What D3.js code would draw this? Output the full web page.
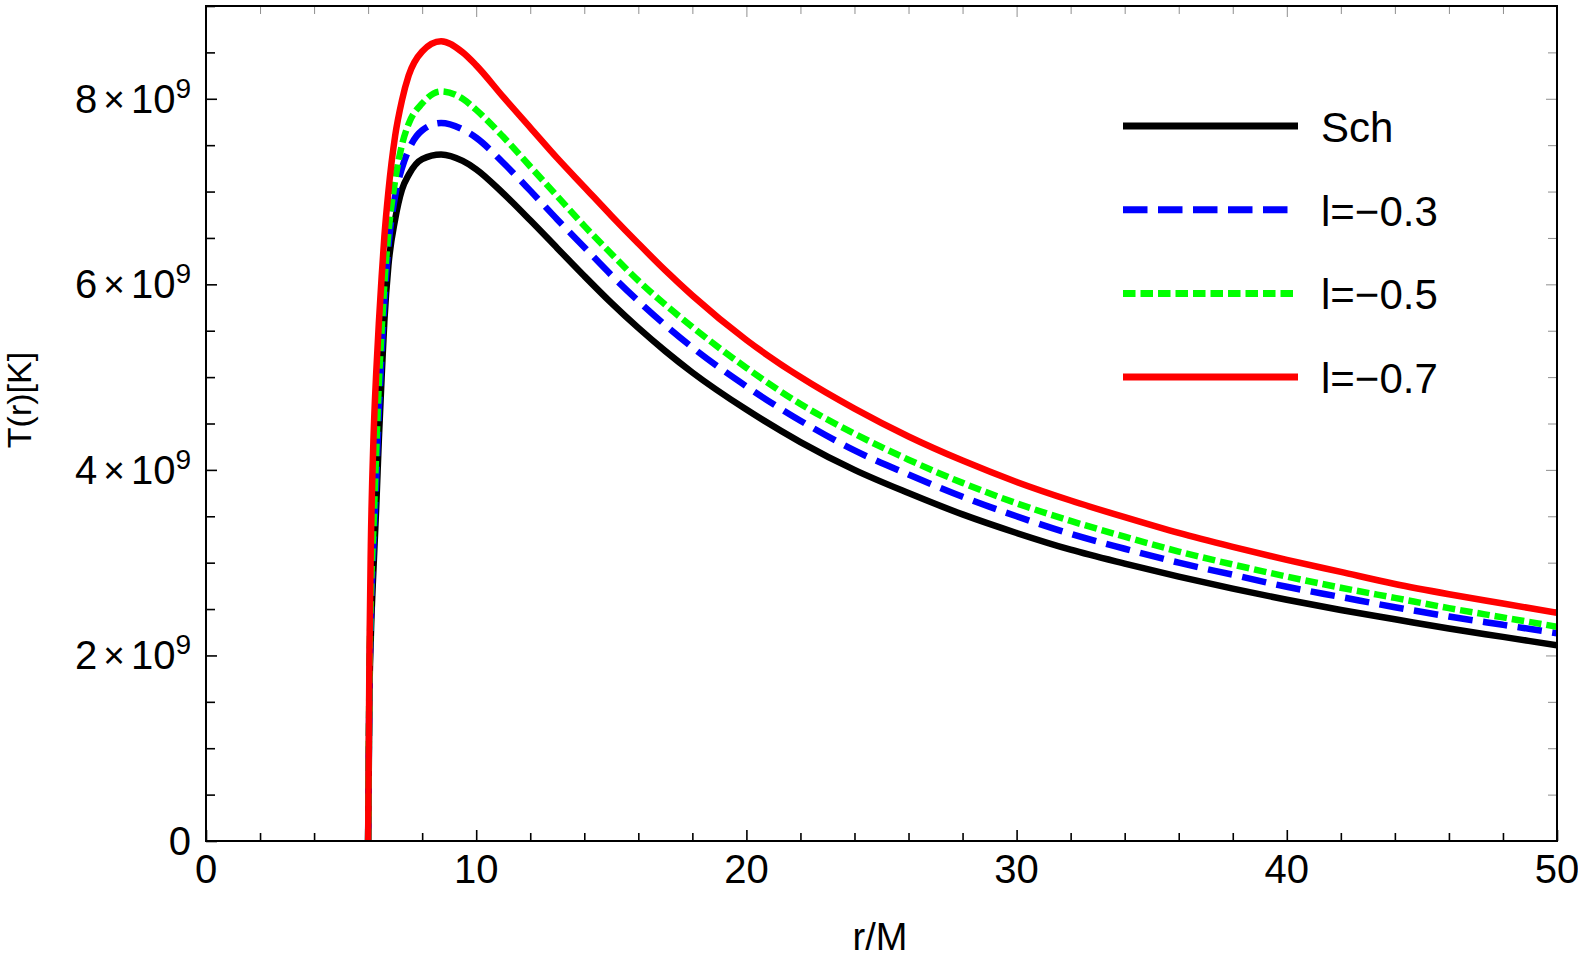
<!DOCTYPE html>
<meta charset="utf-8">
<style>
body {
  margin: 0;
  background-color: #fff;
}
svg text {
  font-family: "Liberation Sans", Arial, sans-serif;
  fill: #000;
}
.frame {
  fill: none;
  stroke: #000;
  stroke-width: 2px;
}
.axis path { display: none; }
.axis .tick line {
  stroke: #000;
  stroke-width: 1.6px;
}
.mirror .tick line {
  stroke: #8f8f8f;
  stroke-width: 1px;
}
.curve {
  fill: none;
  stroke-width: 6.5px;
}
</style>
<svg width="1578" height="956"></svg>
<script src="https://d3js.org/d3.v7.min.js"></script>
<script>
// r/M sample points
var rValues = [6, 6.05, 6.1, 6.2, 6.3, 6.4, 6.5, 6.6, 6.75, 7, 7.25, 7.5, 8, 8.7, 9.5, 10,
               11, 12, 13, 14, 15, 16, 17, 18, 20, 22, 24, 26, 28, 30, 32, 34, 36, 38,
               40, 42, 44, 46, 48, 50];

// T(r) in units of 10^9 K
var schT  = [0, 1.6, 2.2, 2.95, 3.6, 4.35, 5.0, 5.6, 6.2, 6.7, 7.02, 7.18, 7.35, 7.40, 7.33, 7.24,
             6.98, 6.69, 6.39, 6.09, 5.80, 5.53, 5.28, 5.05, 4.65, 4.30, 4.00, 3.75, 3.52, 3.32,
             3.14, 2.99, 2.85, 2.72, 2.60, 2.49, 2.39, 2.29, 2.20, 2.11];
var l03T  = [0, 1.7, 2.4, 3.2, 3.9, 4.65, 5.25, 5.8, 6.4, 6.95, 7.25, 7.45, 7.66, 7.74, 7.67, 7.58,
             7.31, 7.01, 6.70, 6.40, 6.10, 5.82, 5.56, 5.32, 4.90, 4.53, 4.21, 3.95, 3.71, 3.50,
             3.31, 3.15, 3.00, 2.87, 2.74, 2.63, 2.52, 2.42, 2.33, 2.24];
var l05T  = [0, 1.8, 2.6, 3.4, 4.2, 4.95, 5.5, 6.0, 6.55, 7.12, 7.5, 7.73, 7.95, 8.08, 8.0, 7.88,
             7.59, 7.27, 6.95, 6.63, 6.33, 6.04, 5.78, 5.54, 5.10, 4.71, 4.39, 4.11, 3.86, 3.64,
             3.45, 3.28, 3.12, 2.98, 2.85, 2.73, 2.62, 2.51, 2.41, 2.31];
var l07T  = [0, 2.06, 3.17, 4.35, 5.05, 5.6, 6.08, 6.51, 7.0, 7.6, 7.98, 8.25, 8.51, 8.62, 8.50, 8.36,
             8.02, 7.69, 7.36, 7.05, 6.74, 6.44, 6.15, 5.88, 5.40, 5.00, 4.66, 4.36, 4.10, 3.87,
             3.67, 3.49, 3.32, 3.17, 3.03, 2.90, 2.77, 2.66, 2.56, 2.46];

var seriesNames = ["Sch", "l=\u22120.3", "l=\u22120.5", "l=\u22120.7"];
var seriesValues = [schT, l03T, l05T, l07T];
var seriesColors = ["#000000", "#0000ff", "#00ff00", "#ff0000"];
var seriesDash = [null, "24.5,10.5", "12.5,5", null];

var xTickValues = [0, 10, 20, 30, 40, 50];
var yTickValues = [0, 2, 4, 6, 8];       // mantissa of n x 10^9
var yTickLabels = ["0", "2", "4", "6", "8"];

var svg = d3.select("svg"),
    margin = {top: 6, right: 21, bottom: 115, left: 206},
    width = +svg.attr("width") - margin.left - margin.right,
    height = +svg.attr("height") - margin.top - margin.bottom;

var x = d3.scaleLinear().domain([0, 50]).range([0, width]);
var y = d3.scaleLinear().domain([0, 9]).range([height, 0]);

var g = svg.append("g")
    .attr("transform", "translate(" + margin.left + "," + margin.top + ")");

// minor ticks every 2 in r, every 0.5 in T
var xMinor = x.ticks(25).filter(function(d) { return d % 10 !== 0; });
var yMinor = y.ticks(18).filter(function(d) { return d % 2 !== 0; });

function tickAxis(axis, vals, size) {
  return axis.tickValues(vals).tickSize(size).tickFormat("");
}

// bottom + left (black, inward)
g.append("g").attr("class", "axis")
    .attr("transform", "translate(0," + height + ")")
    .call(tickAxis(d3.axisBottom(x), xMinor, -8));
g.append("g").attr("class", "axis")
    .attr("transform", "translate(0," + height + ")")
    .call(tickAxis(d3.axisBottom(x), xTickValues, -11));
g.append("g").attr("class", "axis")
    .call(tickAxis(d3.axisLeft(y), yMinor, -9));
g.append("g").attr("class", "axis")
    .call(tickAxis(d3.axisLeft(y), yTickValues, -11));

// top + right mirrored ticks (grey)
g.append("g").attr("class", "axis mirror")
    .call(tickAxis(d3.axisTop(x), xMinor, -8));
g.append("g").attr("class", "axis mirror")
    .call(tickAxis(d3.axisTop(x), xTickValues, -11));
g.append("g").attr("class", "axis mirror")
    .attr("transform", "translate(" + width + ",0)")
    .call(tickAxis(d3.axisRight(y), yMinor, -9));
g.append("g").attr("class", "axis mirror")
    .attr("transform", "translate(" + width + ",0)")
    .call(tickAxis(d3.axisRight(y), yTickValues, -11));

// x tick labels
g.selectAll(".xlab")
    .data(xTickValues)
  .enter().append("text")
    .attr("class", "xlab")
    .attr("x", function(d) { return x(d); })
    .attr("y", height + 42)
    .attr("text-anchor", "middle")
    .style("font-size", "40px")
    .text(function(d) { return d; });

// y tick labels: n x 10^9
var ylab = g.selectAll(".ylab")
    .data(yTickValues)
  .enter().append("text")
    .attr("class", "ylab")
    .attr("x", -15)
    .attr("y", function(d) { return y(d) + 14; })
    .attr("text-anchor", "end")
    .style("font-size", "40px");

ylab.each(function(d, i) {
  var t = d3.select(this);
  if (d === 0) { t.text(yTickLabels[i]); return; }
  t.append("tspan").text(yTickLabels[i]);
  t.append("tspan").style("font-size", "37px").attr("dx", 6).attr("dy", -1).text("\u00d7");
  t.append("tspan").attr("dx", 6).attr("dy", 1).text("10");
  t.append("tspan").style("font-size", "28px").attr("dy", -15).text("9");
});

// curves
var line = d3.line()
    .x(function(d) { return x(d[0]); })
    .y(function(d) { return y(d[1]); })
    .curve(d3.curveMonotoneX);

g.append("defs").append("clipPath").attr("id", "plotclip")
  .append("rect").attr("width", width).attr("height", height + 2);

g.selectAll(".curve")
    .data(seriesValues)
  .enter().append("path")
    .attr("class", "curve")
    .attr("clip-path", "url(#plotclip)")
    .attr("d", function(vals) { return line(rValues.map(function(r, i) { return [r, vals[i]]; })); })
    .style("stroke", function(d, i) { return seriesColors[i]; })
    .style("stroke-dasharray", function(d, i) { return seriesDash[i]; });

// frame
g.append("rect")
    .attr("class", "frame")
    .attr("width", width)
    .attr("height", height);

// axis titles
svg.append("text")
    .attr("transform", "translate(31," + 400 + ") rotate(-90)")
    .attr("text-anchor", "middle")
    .style("font-size", "34px")
    .text("T(r)[K]");

svg.append("text")
    .attr("x", 880)
    .attr("y", 950)
    .attr("text-anchor", "middle")
    .style("font-size", "38px")
    .text("r/M");

// legend
var legend = svg.append("g").attr("transform", "translate(1123,126)");
var item = legend.selectAll(".item")
    .data(seriesNames)
  .enter().append("g")
    .attr("class", "item")
    .attr("transform", function(d, i) { return "translate(0," + (i * 83.7) + ")"; });

item.append("line")
    .attr("x1", 0).attr("x2", 175)
    .style("stroke", function(d, i) { return seriesColors[i]; })
    .style("stroke-width", "7px")
    .style("stroke-dasharray", function(d, i) { return seriesDash[i]; });

item.append("text")
    .attr("x", 198)
    .attr("y", 16)
    .style("font-size", "42px")
    .text(function(d) { return d; });
</script>
